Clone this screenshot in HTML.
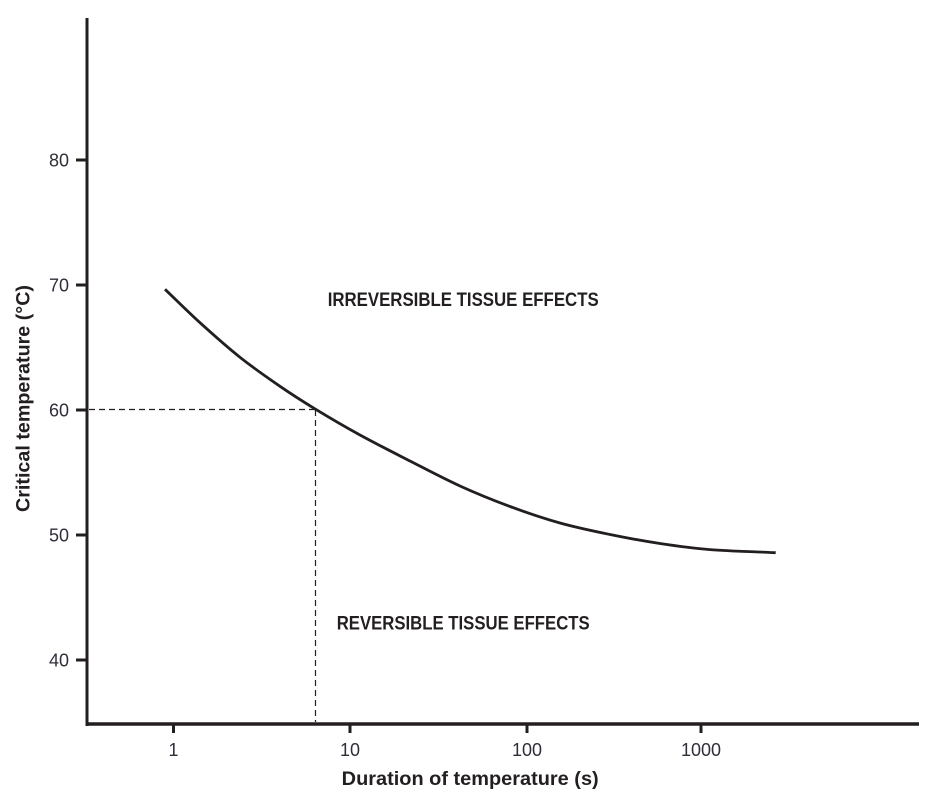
<!DOCTYPE html>
<html><head><meta charset="utf-8"><style>
html,body{margin:0;padding:0;background:#fff;}
svg{display:block;}
text{font-family:"Liberation Sans",Arial,sans-serif;}
</style></head><body>
<svg width="939" height="802" viewBox="0 0 939 802" xmlns="http://www.w3.org/2000/svg">
<rect width="939" height="802" fill="#fff"/>
<!-- axes -->
<line x1="87" y1="18" x2="87" y2="726" stroke="#231f20" stroke-width="3"/>
<line x1="85.5" y1="724" x2="919" y2="724" stroke="#231f20" stroke-width="3.5"/>
<!-- ticks -->
<g stroke="#231f20" stroke-width="3">
<line x1="76" y1="160" x2="87" y2="160"/>
<line x1="76" y1="285" x2="87" y2="285"/>
<line x1="76" y1="410" x2="87" y2="410"/>
<line x1="76" y1="535" x2="87" y2="535"/>
<line x1="76" y1="660" x2="87" y2="660"/>
<line x1="173.5" y1="724" x2="173.5" y2="733"/>
<line x1="350" y1="724" x2="350" y2="733"/>
<line x1="527" y1="724" x2="527" y2="733"/>
<line x1="701" y1="724" x2="701" y2="733"/>
</g>
<g fill="#2f2f3a" font-size="18">
<text x="69" y="166.5" text-anchor="end">80</text>
<text x="69" y="291.5" text-anchor="end">70</text>
<text x="69" y="416.5" text-anchor="end">60</text>
<text x="69" y="541.5" text-anchor="end">50</text>
<text x="69" y="666.5" text-anchor="end">40</text>
<text x="173.5" y="756" text-anchor="middle">1</text>
<text x="350" y="756" text-anchor="middle">10</text>
<text x="527" y="756" text-anchor="middle">100</text>
<text x="701" y="756" text-anchor="middle">1000</text>
</g>
<!-- dashed guides -->
<g stroke="#231f20" stroke-width="1.2" stroke-dasharray="6,4" fill="none">
<line x1="89" y1="409.5" x2="315.5" y2="409.5"/>
<line x1="315.5" y1="410" x2="315.5" y2="722"/>
</g>
<!-- curve -->
<path fill="none" stroke="#231f20" stroke-width="2.8" stroke-linecap="butt"
d="M165,289.3 C176.67,300.43 187.5,311.37 200,322.7
C212.5,334.03 226.67,346.7 240,357.3
C253.33,367.9 267.38,377.63 280,386.3
C292.62,394.97 302.37,401.18 315.7,409.3
C329.03,417.42 344.28,426.38 360,435
C375.72,443.62 393.33,452.5 410,461
C426.67,469.5 443.33,478.42 460,486
C476.67,493.58 493.33,500.33 510,506.5
C526.67,512.67 543.33,518.33 560,523
C576.67,527.67 593.33,531.08 610,534.5
C626.67,537.92 643.33,540.98 660,543.5
C676.67,546.02 690.72,548.07 710,549.6
C729.28,551.13 753.8,551.67 775.7,552.7"/>
<!-- region labels -->
<g fill="#231f20" font-weight="bold" font-size="19.5">
<text x="327.7" y="306" textLength="271" lengthAdjust="spacingAndGlyphs">IRREVERSIBLE TISSUE EFFECTS</text>
<text x="336.7" y="629.5" textLength="253" lengthAdjust="spacingAndGlyphs">REVERSIBLE TISSUE EFFECTS</text>
</g>
<!-- axis titles -->
<text x="341.7" y="785" fill="#231f20" font-weight="bold" font-size="19" textLength="257" lengthAdjust="spacingAndGlyphs">Duration of temperature (s)</text>
<text transform="translate(29.5,398.5) rotate(-90)" x="0" y="0" text-anchor="middle" fill="#231f20" font-weight="bold" font-size="19" textLength="227" lengthAdjust="spacingAndGlyphs">Critical temperature (°C)</text>
</svg>
</body></html>
